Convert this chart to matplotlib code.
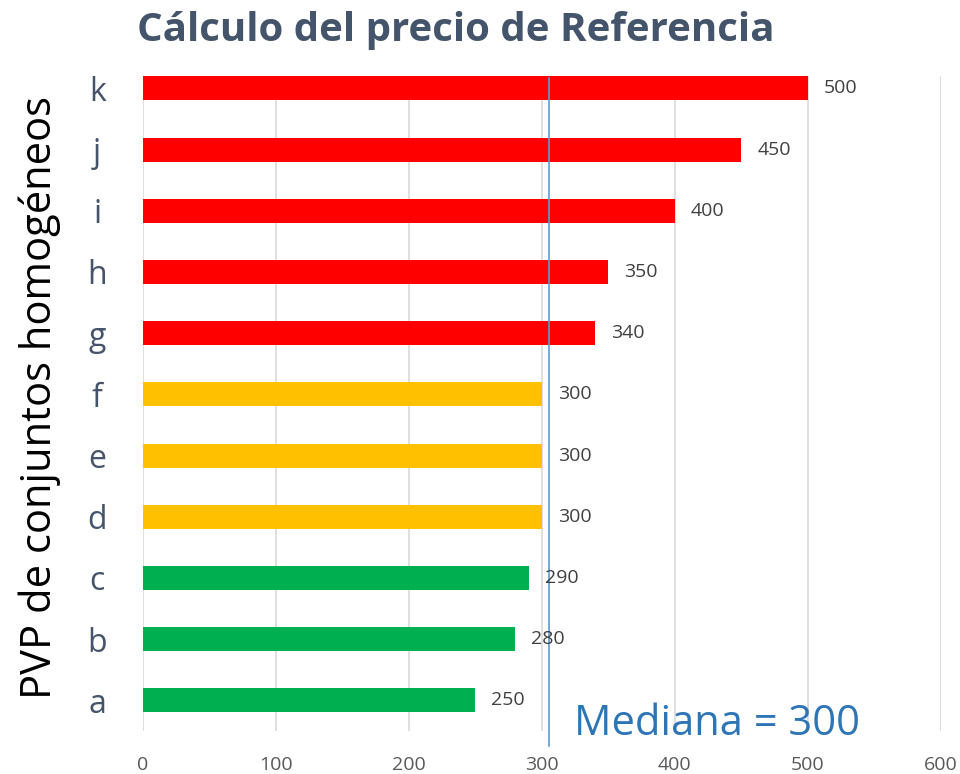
import matplotlib.pyplot as plt

categories = ['a', 'b', 'c', 'd', 'e', 'f', 'g', 'h', 'i', 'j', 'k']
values = [250, 280, 290, 300, 300, 300, 340, 350, 400, 450, 500]
groups = ['low', 'low', 'low', 'mid', 'mid', 'mid', 'high', 'high', 'high', 'high', 'high']
group_colors = {'low': '#00B050', 'mid': '#FFC000', 'high': '#FF0000'}
median_value = 300
median_marker = 305  # where the line sits in the picture
xticks = [0, 100, 200, 300, 400, 500, 600]

body_font = 'Open Sans'

fig = plt.figure(figsize=(9.6, 7.74), dpi=100)
ax = fig.add_axes([0.149, 0.0556, 0.831, 0.846])

ypos = list(range(len(categories)))
colors = [group_colors[g] for g in groups]
ax.barh(ypos, values, height=0.39, color=colors, zorder=2)

for y, v in zip(ypos, values):
    ax.text(v + 12, y, str(v), va='center', ha='left', fontsize=14,
            color='#404040', family=body_font, zorder=4)

ax.plot([median_marker, median_marker], [-0.75, 10.17], color='#5B9BD5',
        lw=1.2, clip_on=False, zorder=3)
ax.text(0.54, -0.006, f'Mediana = {median_value}', transform=ax.transAxes,
        fontsize=30, color='#2E75B6', family=body_font, va='baseline', ha='left')

ax.set_xlim(0, 600)
ax.set_ylim(-0.5, 10.2)
ax.set_xticks(xticks)
ax.set_xticklabels([str(t) for t in xticks], fontsize=14, color='#595959',
                   family=body_font)
ax.set_yticks(ypos)
ax.set_yticklabels(categories, fontsize=23, color='#44546A', family=body_font,
                   ha='center')
ax.tick_params(axis='both', length=0)
ax.tick_params(axis='y', pad=33)
ax.tick_params(axis='x', pad=18)
ax.grid(axis='x', color='#D9D9D9', lw=1.2, zorder=0)
for s in ax.spines.values():
    s.set_visible(False)

ax.set_ylabel('PVP de conjuntos homogéneos', fontsize=30, color='black',
              family=body_font, va='center')
ax.yaxis.set_label_coords(-0.129, 0.51)
fig.text(0.475, 0.96, 'Cálculo del precio de Referencia', ha='center',
         va='center', fontsize=29, fontweight='bold', color='#44546A',
         family=body_font)

fig.savefig('out.png', dpi=100)
